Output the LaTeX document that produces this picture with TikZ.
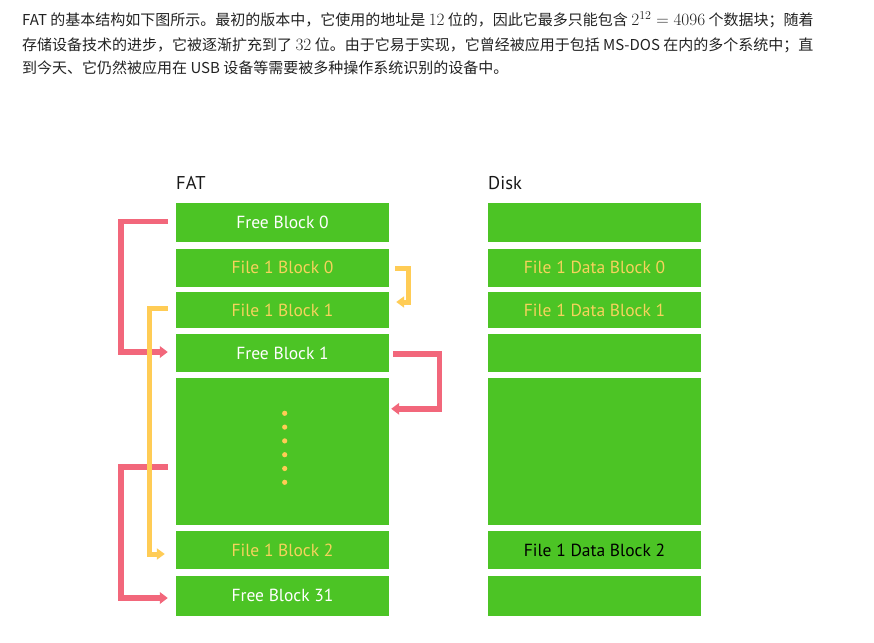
\documentclass[tikz,border=0pt]{standalone}
\usepackage{fontspec}
\setmainfont{PT Sans}
\newfontfamily\cjk{Noto Sans CJK SC}
\usetikzlibrary{arrows.meta,calc}
\definecolor{blockgreen}{HTML}{4CC425}
\definecolor{linkred}{HTML}{F2677B}
\definecolor{linkyellow}{HTML}{FFCC55}
\definecolor{textyellow}{HTML}{F5D35C}
\definecolor{bodytext}{HTML}{222222}
\newcommand{\bigmath}[1]{{\fontsize{18}{18}\selectfont$#1$}}
\begin{document}
\begin{tikzpicture}[x=1pt,y=-1pt,
  block/.style={fill=blockgreen, minimum width=213pt, inner sep=0pt, font=\fontsize{17.5}{20}\selectfont},
  freetext/.style={text=white},
  filetext/.style={text=textyellow},
  heading/.style={anchor=base west, inner sep=0pt, font=\fontsize{18.5}{20}\selectfont, text=black!90},
  para/.style={anchor=base west, inner sep=0pt, text=bodytext, font=\cjk\fontsize{15}{18}\selectfont},
  redlink/.style={draw=linkred, line width=5.5pt, -{Triangle[length=8pt,width=11.5pt]}},
  yellowlink/.style={draw=linkyellow, line width=5pt, -{Triangle[length=8pt,width=11pt]}}
]
\useasboundingbox (0,0) rectangle (874,642);

% paragraph
\node[para] (t1) at (22,26) {FAT 的基本结构如下图所示。最初的版本中，它使用的地址是 \bigmath{12} 位的，因此它最多只能包含 \bigmath{2^{12} = 4096} 个数据块；随着};
\node[para] (t2) at (22,50) {存储设备技术的进步，它被逐渐扩充到了 \bigmath{32} 位。由于它易于实现，它曾经被应用于包括 MS-DOS 在内的多个系统中；直};
\node[para] (t3) at (22,74) {到今天、它仍然被应用在 USB 设备等需要被多种操作系统识别的设备中。};

% headings
\node[heading] (fat) at (176,189.3) {FAT};
\node[heading] (disk) at (488,189.3) {Disk};

% FAT column
\node[block, minimum height=39pt, freetext] (f0) at (282.5,222.5) {Free Block 0};
\node[block, minimum height=37.5pt, filetext] (f1) at (282.5,267.75) {File 1 Block 0};
\node[block, minimum height=36pt, filetext] (f2) at (282.5,310) {File 1 Block 1};
\node[block, minimum height=38pt, freetext] (f3) at (282.5,353) {Free Block 1};
\node[block, minimum height=147pt] (f4) at (282.5,451.5) {};
\node[block, minimum height=38pt, filetext] (f5) at (282.5,550) {File 1 Block 2};
\node[block, minimum height=40pt, freetext] (f6) at (282.5,595.5) {Free Block 31};

% Disk column
\node[block, minimum height=39pt] (d0) at (594.5,222.5) {};
\node[block, minimum height=37.5pt, filetext] (d1) at (594.5,267.75) {File 1 Data Block 0};
\node[block, minimum height=36pt, filetext] (d2) at (594.5,310) {File 1 Data Block 1};
\node[block, minimum height=38pt] (d3) at (594.5,353) {};
\node[block, minimum height=147pt] (d4) at (594.5,451.5) {};
\node[block, minimum height=38pt, text=black] (d5) at (594.5,550) {File 1 Data Block 2};
\node[block, minimum height=40pt] (d6) at (594.5,595.5) {};

% dots
\foreach \i in {0,...,5}
  \fill[linkyellow] (284.7,413.3+13.8*\i) circle (2.6pt);

% red links (free list)
\draw[redlink] ($(f0.west)+(-8,-1)$) -- ++(-47,0) |- ($(f3.west)+(-8,-1)$);
\draw[redlink] ($(f3.east)+(4,1)$) -- ++(46.5,0) |- ($(f4.north east)+(2,31)$);
\draw[redlink] ($(f4.north west)+(-8,89)$) -- ++(-47,0) |- ($(f6.west)+(-8,2.5)$);

% yellow links (file chain)
\draw[yellowlink] ($(f1.east)+(6,1)$) -- ++(13,0) |- ($(f2.east)+(7,-8)$);
\draw[yellowlink] ($(f2.west)+(-8,-2)$) -- ++(-18,0) |- ($(f5.west)+(-11,4)$);
\end{tikzpicture}
\end{document}
